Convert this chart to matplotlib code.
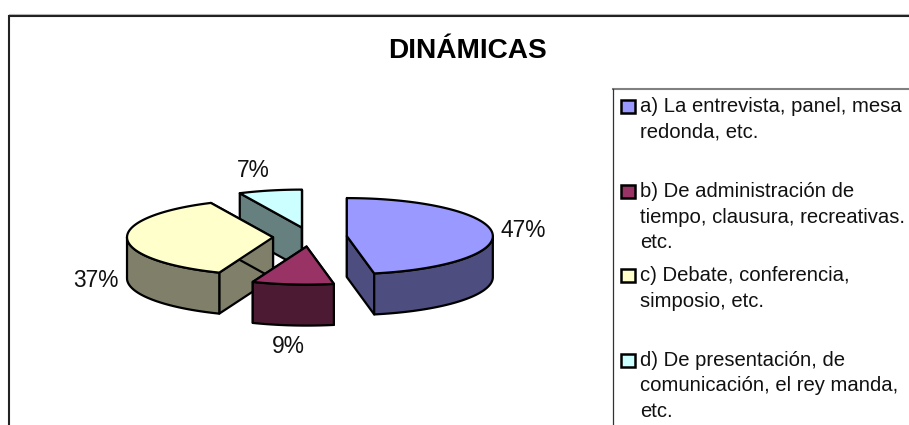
import numpy as np
import matplotlib
matplotlib.use('Agg')
from matplotlib import pyplot as plt
from matplotlib.patches import Polygon, Rectangle

plt.rcParams['font.family'] = ['Liberation Sans', 'DejaVu Sans']

title = 'DINÁMICAS'
values = [47, 9, 37, 7]
pct_labels = ['47%', '9%', '37%', '7%']
legend_lines = [
    ['a) La entrevista, panel, mesa', 'redonda, etc.'],
    ['b) De administración de', 'tiempo, clausura, recreativas.', 'etc.'],
    ['c) Debate, conferencia,', 'simposio, etc.'],
    ['d) De presentación, de', 'comunicación, el rey manda,', 'etc.'],
]
top_colors = ['#9999ff', '#993366', '#ffffcc', '#ccffff']
side_colors = ['#4d4d80', '#4d1a33', '#80806a', '#668080']

# pie geometry in pixels
cx, cy = 310, 237
rx, ry = 146, 38
explode = 37
depth = 41
# text baselines in pixels
label_pos = [(523.3, 237), (288.3, 353), (95.5, 287), (253.3, 177)]
legend_y = [[112, 138], [197, 223, 248], [281, 307], [366, 391, 417]]
draw_order = [3, 2, 1, 0]

W, H = 909, 425
fig = plt.figure(figsize=(W / 100, H / 100), dpi=100)
ax = fig.add_axes([0, 0, 1, 1])
ax.set_xlim(0, W)
ax.set_ylim(H, 0)
ax.axis('off')


def pt(c, ang):
    # angles clockwise from 12 o'clock, degrees
    a = np.radians(ang)
    return np.column_stack([c[0] + rx * np.sin(a), c[1] - ry * np.cos(a)])


def poly(xy, fc, z):
    ax.add_patch(Polygon(xy, closed=True, fc=fc, ec='black', lw=1.6, joinstyle='round', zorder=z))


def wedge(i, start, end, z):
    mid = np.radians((start + end) / 2)
    c = (cx + explode * np.sin(mid), cy - explode * ry / rx * np.cos(mid))
    c_arr = np.array([c])
    down = np.array([0, depth])
    # radial walls, then the visible part of the rim, then the top
    for ang in (start, end):
        e = pt(c, np.array([ang]))
        poly(np.vstack([c_arr, e, e + down, c_arr + down]), side_colors[i], z)
    lo, hi = max(start, 90), min(end, 270)
    if lo < hi:
        arc = pt(c, np.linspace(lo, hi, 60))
        poly(np.vstack([arc, arc[::-1] + down]), side_colors[i], z + 0.1)
    arc = pt(c, np.linspace(start, end, 120))
    poly(np.vstack([c_arr, arc]), top_colors[i], z + 0.2)


edges = np.cumsum([0] + values) / sum(values) * 360
for n, i in enumerate(draw_order):
    wedge(i, edges[i], edges[i + 1], n + 2)

for i, lab in enumerate(pct_labels):
    ax.text(label_pos[i][0], label_pos[i][1], lab, fontsize=16.4, ha='center', va='baseline', color='#111111', zorder=10)

ax.text(467.5, 58, title, fontsize=20.2, fontweight='bold', ha='center', va='baseline', zorder=10)

# chart frame and legend box
ax.plot([9, W], [14, 14], color='#bbbbbb', lw=0.8, zorder=1)
ax.plot([9, 9, W], [H, 15.5, 15.5], color='#222222', lw=1.5, zorder=1, solid_joinstyle='miter')
ax.plot([612.5, W], [89, 89], color='#808080', lw=1.5, zorder=1)
ax.plot([612.5, 612.5], [H, 89], color='#333333', lw=0.9, zorder=1)

for i, lines in enumerate(legend_lines):
    ys = legend_y[i]
    ax.add_patch(Rectangle((621, ys[0] - 12.5), 13.5, 13, fc=top_colors[i], ec='black', lw=1.8, zorder=5))
    for y, line in zip(ys, lines):
        ax.text(640, y, line, fontsize=14.6, ha='left', va='baseline', color='#111111', zorder=10)

fig.savefig('out.png', dpi=100)
